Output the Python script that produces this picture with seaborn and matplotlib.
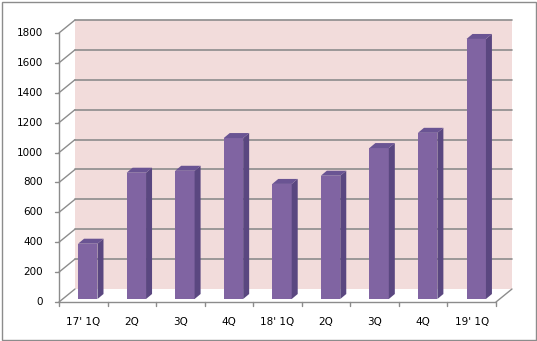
import matplotlib
matplotlib.use("Agg")
import matplotlib.pyplot as plt
import seaborn as sns
import pandas as pd
from matplotlib.transforms import offset_copy
from matplotlib.patches import Polygon, Rectangle

categories = ["17' 1Q", "2Q", "3Q", "4Q", "18' 1Q", "2Q ", "3Q ", "4Q ", "19' 1Q"]
values = [370, 845, 858, 1077, 770, 825, 1010, 1112, 1740]
y_ticks = [0, 200, 400, 600, 800, 1000, 1200, 1400, 1600, 1800]

sns.set_theme(style="white")
plt.rcParams['font.family'] = ['DejaVu Sans']

W, H = 537, 341
fig = plt.figure(figsize=(W / 100, H / 100), dpi=100)
fig.patch.set_facecolor("white")
fig.add_artist(Rectangle((1.5 / W, 1.5 / H), (W - 3) / W, (H - 3) / H, transform=fig.transFigure,
                         fill=False, edgecolor="#8c8c8c", lw=1))

L, R, T, B = 59, 496, 33, 302
ax = fig.add_axes([L / W, (H - B) / H, (R - L) / W, (B - T) / H])
ax.set_xlim(-0.5, 8.5)
ax.set_ylim(0, 1800)
ax.patch.set_alpha(0)
for s in ax.spines.values():
    s.set_visible(False)

DX, DY = 16, 13
grid_c = "#8c8c8c"
back = offset_copy(ax.transData, fig=fig, x=DX, y=DY, units="dots")

wall = Rectangle((-0.5, 0), 9, 1800, transform=back, facecolor="#f2dcdb", edgecolor="none", zorder=0)
wall.set_clip_on(False)
ax.add_patch(wall)
for v in y_ticks:
    if v > 0:
        ax.plot([-0.5, 8.5], [v, v], transform=back, color=grid_c, lw=1.2, zorder=1, clip_on=False)

def disp(x, y):
    return ax.transData.transform((x, y))

for v in y_ticks:
    p0 = disp(-0.5, v)
    ax.plot([p0[0], p0[0] + DX], [p0[1], p0[1] + DY], transform=None, color=grid_c, lw=1, clip_on=False)
p0 = disp(8.5, 0)
ax.plot([p0[0], p0[0] + DX], [p0[1], p0[1] + DY], transform=None, color=grid_c, lw=1, clip_on=False)
ax.plot([-0.5, -0.5], [0, 1800], color=grid_c, lw=1, clip_on=False)
for v in y_ticks:
    p = disp(-0.5, v)
    ax.plot([p[0] - 4, p[0]], [p[1], p[1]], transform=None, color=grid_c, lw=1, clip_on=False)
    ax.text(p[0] - 16, p[1], str(v), transform=None, ha="right", va="center", fontsize=7.5, color="black")
ax.plot([-0.5, 8.5], [0, 0], color=grid_c, lw=1, clip_on=False)
for i in range(10):
    p = disp(i - 0.5, 0)
    ax.plot([p[0], p[0]], [p[1], p[1] - 4], transform=None, color=grid_c, lw=1, clip_on=False)
for i, c in enumerate(categories):
    p = disp(i, 0)
    ax.text(p[0], p[1] - 20, c.strip(), transform=None, ha="center", va="center", fontsize=7.5, color="black")

df = pd.DataFrame({"cat": categories, "val": values})
n_before = len(ax.patches)
sns.barplot(data=df, x="cat", y="val", ax=ax, color="#8064a2", width=0.4, saturation=1,
            linewidth=0, edgecolor="none", zorder=3)
ax.set_xlim(-0.5, 8.5)
ax.set_ylim(0, 1800)
ax.set_xlabel("")
ax.set_ylabel("")
ax.set_xticks([])
ax.set_yticks([])

BX, BY = 4.5, 3
SD, SH = 6, 5
bar_tr = offset_copy(ax.transData, fig=fig, x=BX, y=BY, units="dots")
for patch in list(ax.patches)[n_before:]:
    x0, w, h = patch.get_x(), patch.get_width(), patch.get_height()
    a = ax.transData.transform((x0, 0)) + (BX, BY)
    b = ax.transData.transform((x0 + w, h)) + (BX, BY)
    patch.set_transform(bar_tr)
    side = Polygon([(b[0], a[1]), (b[0], b[1]), (b[0] + SD, b[1] + SH), (b[0] + SD, a[1] + SH)],
                   closed=True, transform=None, facecolor="#5a4780", edgecolor="none", zorder=3)
    top = Polygon([(a[0], b[1]), (b[0], b[1]), (b[0] + SD, b[1] + SH), (a[0] + SD, b[1] + SH)],
                  closed=True, transform=None, facecolor="#6a5493", edgecolor="none", zorder=3)
    ax.add_artist(side)
    ax.add_artist(top)

fig.savefig("out.png", dpi=100, facecolor="white")
